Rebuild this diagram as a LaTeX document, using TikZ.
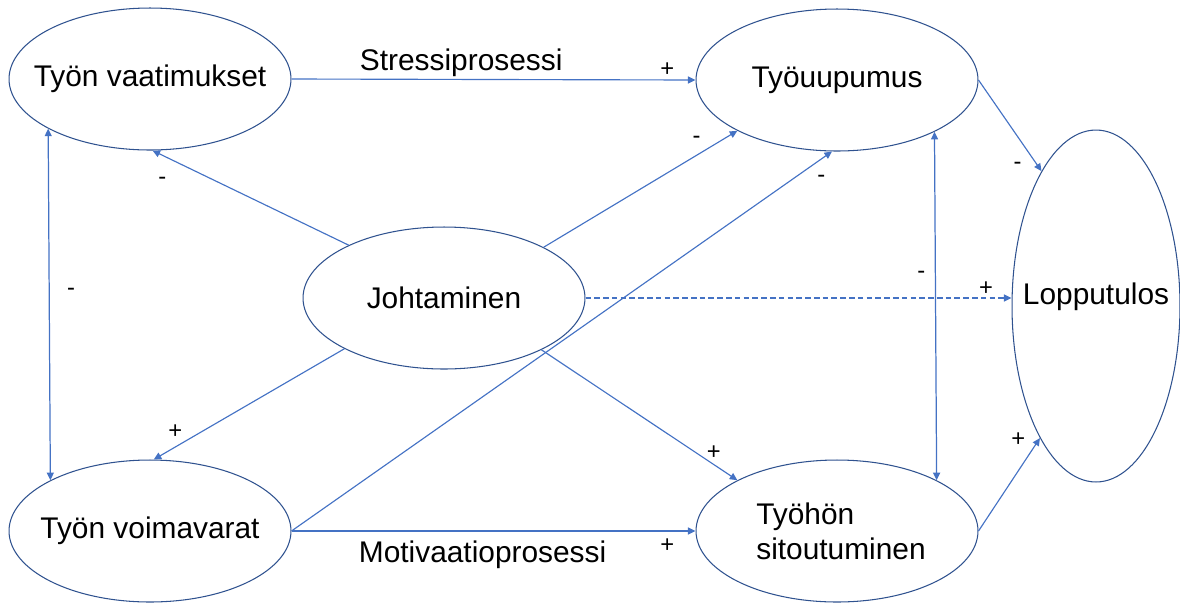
\documentclass[tikz,border=0pt]{standalone}
\usepackage{fontspec}
\setmainfont{Liberation Sans}
\usepackage{tikz}
\usetikzlibrary{arrows.meta,positioning,shapes.geometric}
\definecolor{mod@line}{RGB}{68,114,196}
\definecolor{mod@edge}{RGB}{47,82,143}

\begin{document}
\begin{tikzpicture}[x=0.02cm,y=-0.02cm,
  latent/.style={ellipse,draw=mod@edge,line width=0.6pt,inner sep=0pt,
    minimum width=5.64cm,minimum height=2.84cm},
  ntext/.style={font=\fontsize{17}{20}\selectfont,text=black},
  link/.style={-{Triangle[length=4.3pt,width=4pt]},mod@line,line width=0.65pt},
  link2/.style={{Triangle[length=4.3pt,width=4pt]}-{Triangle[length=4.3pt,width=4pt]},
    mod@line,line width=0.7pt},
  weak/.style={link,dash pattern=on 3.2pt off 1.8pt},
  plabel/.style={font=\fontsize{17}{20}\selectfont,text=black,inner sep=1pt},
  sgn/.style={font=\fontsize{13.5}{15}\selectfont,text=black,inner sep=0pt}
]
\useasboundingbox (0,0) rectangle (1180,603);

\node[latent,label={[ntext]center:Työn vaatimukset}] (vaat) at (150,79) {};
\node[latent,label={[ntext]center:Työn voimavarat}] (voim) at (150,531) {};
\node[latent,label={[ntext]center:Johtaminen}] (joht) at (444,298) {};
\node[latent,label={[ntext]center:Työuupumus}] (uup) at (837,80) {};
\node[latent,label={[ntext,align=left,xshift=0.08cm]center:Työhön\\sitoutuminen}] (sit) at (837,531) {};
\node[latent,minimum width=3.36cm,minimum height=7.04cm,
  label={[ntext,yshift=0.18cm]center:Lopputulos}] (lop) at (1096,306) {};

% processes
\draw[link] (vaat.east) -- node[plabel,pos=.42,above]{Stressiprosessi}
  node[sgn,pos=.93,yshift=0.21cm]{+} (uup.west);
\draw[link] (voim.east) -- node[plabel,pos=.473,below=4pt]{Motivaatioprosessi}
  node[sgn,pos=.93,yshift=-0.29cm]{+} (sit.west);

% leadership
\draw[link] (joht.151.8) -- node[sgn,pos=.95,yshift=-0.52cm]{-} (vaat.272.4);
\draw[link] (joht.207.7) -- node[sgn,pos=.85,xshift=-0.14cm,yshift=0.22cm]{+} (voim.87.6);
\draw[link] (joht.27.7) -- node[sgn,pos=.8,xshift=-0.04cm,yshift=0.28cm]{-} (uup.207);
\draw[link] (joht.332.8) -- node[sgn,pos=.88,yshift=0.24cm]{+} (sit.153.7);
\draw[weak] (joht.east) -- node[sgn,pos=.94,yshift=0.19cm]{+} (joht.east -| lop.west);

% resources and outcomes
\draw[link] (voim.east) -- node[sgn,pos=.98,yshift=-0.40cm]{-} (uup.266.8);
\draw[link2] (vaat.206.6) -- node[sgn,pos=.457,xshift=0.44cm,yshift=-0.05cm]{-} (voim.153.4);
\draw[link2] (uup.332.5) -- node[sgn,pos=.4,xshift=-0.28cm,yshift=-0.08cm]{-} (sit.27.5);
\draw[link] (uup.east) -- node[sgn,pos=.92,xshift=-0.38cm,yshift=-0.05cm]{-} (lop.112.8);
\draw[link] (sit.east) -- node[sgn,pos=.9,xshift=-0.31cm,yshift=0.15cm]{+} (lop.247.2);
\end{tikzpicture}
\end{document}
